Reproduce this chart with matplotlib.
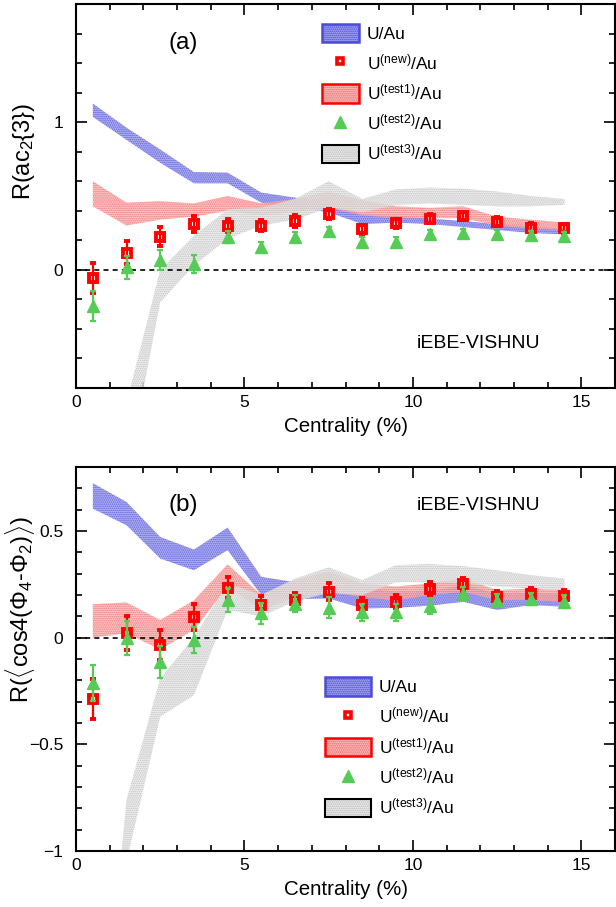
import numpy as np
import matplotlib
matplotlib.use("Agg")
import matplotlib.pyplot as plt
from matplotlib.patches import Patch
from matplotlib.lines import Line2D
from matplotlib.legend_handler import HandlerTuple

plt.rcParams['font.family'] = ['Liberation Sans', 'DejaVu Sans']
plt.rcParams['mathtext.fontset'] = 'custom'
plt.rcParams['mathtext.rm'] = 'Liberation Sans'
plt.rcParams['mathtext.it'] = 'Liberation Sans:italic'
plt.rcParams['mathtext.bf'] = 'Liberation Sans:bold'
plt.rcParams['hatch.linewidth'] = 0.8

# ---------------- data ----------------
centrality = [0.5, 1.5, 2.5, 3.5, 4.5, 5.5, 6.5, 7.5, 8.5, 9.5, 10.5, 11.5, 12.5, 13.5, 14.5]

# panel (a): R(ac2{3})
ua_a_lo = [1.036, 0.880, 0.725, 0.586, 0.586, 0.455, 0.420, 0.390, 0.310, 0.320, 0.310, 0.290, 0.270, 0.250, 0.240]
ua_a_hi = [1.126, 0.962, 0.815, 0.662, 0.658, 0.523, 0.489, 0.450, 0.376, 0.365, 0.347, 0.330, 0.310, 0.290, 0.280]
t1_a_lo = [0.43, 0.30, 0.34, 0.36, 0.40, 0.37, 0.39, 0.42, 0.37, 0.35, 0.35, 0.35, 0.30, 0.28, 0.27]
t1_a_hi = [0.60, 0.455, 0.465, 0.45, 0.50, 0.45, 0.48, 0.53, 0.47, 0.43, 0.42, 0.43, 0.36, 0.34, 0.32]
t3_a_lo = [np.nan, -1.40, -0.22, 0.03, 0.21, 0.30, 0.34, 0.42, 0.39, 0.44, 0.45, 0.44, 0.43, 0.43, 0.44]
t3_a_hi = [np.nan, -0.90, 0.00, 0.23, 0.41, 0.42, 0.48, 0.60, 0.48, 0.545, 0.557, 0.55, 0.53, 0.50, 0.48]
new_a = [-0.054, 0.117, 0.225, 0.31, 0.30, 0.30, 0.33, 0.376, 0.275, 0.316, 0.347, 0.365, 0.327, 0.286, 0.282]
new_a_err = [0.10, 0.08, 0.065, 0.055, 0.045, 0.04, 0.04, 0.034, 0.03, 0.03, 0.03, 0.03, 0.03, 0.03, 0.03]
t2_a = [-0.243, 0.016, 0.066, 0.04, 0.22, 0.155, 0.223, 0.26, 0.19, 0.19, 0.24, 0.248, 0.24, 0.234, 0.226]
t2_a_err = [0.10, 0.08, 0.07, 0.06, 0.04, 0.035, 0.035, 0.03, 0.03, 0.03, 0.03, 0.03, 0.03, 0.03, 0.03]

# panel (b): R(<cos4(Phi4-Phi2)>)
ua_b_lo = [0.605, 0.527, 0.371, 0.316, 0.410, 0.200, 0.180, 0.184, 0.137, 0.140, 0.150, 0.168, 0.130, 0.153, 0.145]
ua_b_hi = [0.724, 0.636, 0.472, 0.413, 0.516, 0.285, 0.260, 0.250, 0.235, 0.215, 0.220, 0.245, 0.207, 0.210, 0.205]
t1_b_lo = [0.00, 0.02, -0.055, 0.036, 0.238, 0.13, 0.19, 0.215, 0.19, 0.175, 0.20, 0.215, 0.176, 0.176, 0.168]
t1_b_hi = [0.157, 0.165, 0.083, 0.175, 0.344, 0.20, 0.27, 0.31, 0.254, 0.24, 0.254, 0.277, 0.223, 0.23, 0.223]
t3_b_lo = [-3.0, -1.05, -0.37, -0.27, 0.13, 0.10, 0.17, 0.21, 0.20, 0.26, 0.26, 0.255, 0.24, 0.23, 0.22]
t3_b_hi = [-2.4, -0.76, -0.19, 0.00, 0.254, 0.20, 0.277, 0.33, 0.27, 0.34, 0.345, 0.335, 0.316, 0.293, 0.277]
new_b = [-0.288, 0.02, -0.034, 0.098, 0.235, 0.153, 0.176, 0.215, 0.153, 0.168, 0.23, 0.25, 0.19, 0.204, 0.195]
new_b_err = [0.095, 0.08, 0.07, 0.06, 0.05, 0.04, 0.035, 0.04, 0.035, 0.03, 0.03, 0.03, 0.03, 0.03, 0.03]
t2_b = [-0.213, -0.003, -0.115, -0.01, 0.176, 0.114, 0.16, 0.14, 0.12, 0.12, 0.148, 0.207, 0.173, 0.181, 0.168]
t2_b_err = [0.085, 0.08, 0.075, 0.06, 0.055, 0.05, 0.04, 0.05, 0.04, 0.04, 0.035, 0.03, 0.03, 0.03, 0.03]

labels = ['U/Au', r'U$^{\rm (new)}$/Au', r'U$^{\rm (test1)}$/Au',
          r'U$^{\rm (test2)}$/Au', r'U$^{\rm (test3)}$/Au']

# ---------------- styles ----------------
BLUE_F, BLUE_H, BLUE_E = '#a4a4ee', '#4646d8', '#4c4cd8'
RED_F, RED_H, RED_E = '#fac0c0', '#ee6060', '#ff0000'
GRAY_F, GRAY_H = '#eeeeee', '#b4b4b4'
RED = '#ff0000'
GREEN = '#55cc55'

W, H = 616, 907
fig = plt.figure(figsize=(W / 100, H / 100), dpi=100)
ax1 = fig.add_axes([76 / W, 1 - 388 / H, 539 / W, 384 / H])
ax2 = fig.add_axes([76 / W, 1 - 851 / H, 539 / W, 384 / H])

x = np.array(centrality)


def band(ax, lo, hi, fc, hc, z):
    ax.fill_between(x, lo, hi, facecolor=fc, edgecolor=hc, hatch='........',
                    linewidth=0, alpha=0.8, zorder=z)


def draw(ax, ua_lo, ua_hi, t1_lo, t1_hi, t3_lo, t3_hi, nv, ne, t2, t2e):
    band(ax, ua_lo, ua_hi, BLUE_F, BLUE_H, 2)
    band(ax, t1_lo, t1_hi, RED_F, RED_H, 2.1)
    band(ax, t3_lo, t3_hi, GRAY_F, GRAY_H, 2.2)
    ax.axhline(0, color='k', lw=1.2, ls=(0, (3, 2.5)), zorder=3)
    ax.errorbar(x, nv, yerr=ne, fmt='s', ms=5.5, mew=2.8, mec=RED, mfc='none',
                ecolor=RED, elinewidth=1.6, capsize=2.5, capthick=1.6, zorder=4)
    ax.errorbar(x, t2, yerr=t2e, fmt='^', ms=9, mec=GREEN, mfc=GREEN,
                ecolor=GREEN, elinewidth=1.6, capsize=2.5, capthick=1.6, zorder=5)


draw(ax1, ua_a_lo, ua_a_hi, t1_a_lo, t1_a_hi, t3_a_lo, t3_a_hi, new_a, new_a_err, t2_a, t2_a_err)
draw(ax2, ua_b_lo, ua_b_hi, t1_b_lo, t1_b_hi, t3_b_lo, t3_b_hi, new_b, new_b_err, t2_b, t2_b_err)

for ax in (ax1, ax2):
    ax.set_xlim(0, 16)
    ax.set_xticks([0, 5, 10, 15])
    ax.set_xticks(np.arange(0, 16, 1), minor=True)
    ax.tick_params(which='both', direction='in', top=True, right=True, width=1.2)
    ax.tick_params(which='major', length=8, labelsize=12.5, pad=5)
    ax.tick_params(which='minor', length=4.3)
    ax.tick_params(axis='y', which='major', pad=9)
    for s in ax.spines.values():
        s.set_linewidth(1.5)
    ax.set_xlabel('Centrality (%)', fontsize=14.8, labelpad=5)

ax1.set_ylim(-0.8, 1.8)
ax1.set_yticks([0, 1])
ax1.set_yticklabels(['0', '1'])
ax1.set_yticks(np.arange(-0.8, 1.81, 0.2), minor=True)
ax1.set_ylabel(r'R(ac$_2${3})', fontsize=17)
ax1.yaxis.set_label_coords(-0.072, 0.617)

ax2.set_ylim(-1, 0.8)
ax2.set_yticks([-1, -0.5, 0, 0.5])
ax2.set_yticklabels(['\u22121', '\u22120.5', '0', '0.5'])
ax2.set_yticks(np.arange(-1, 0.81, 0.1), minor=True)
ax2.set_ylabel(r'R($\langle$cos4($\Phi_4$-$\Phi_2$)$\rangle$)', fontsize=17)
ax2.yaxis.set_label_coords(-0.072, 0.63)

ax1.text(0.1985, 0.898, '(a)', transform=ax1.transAxes, fontsize=17.5, ha='center', va='center')
ax2.text(0.1985, 0.901, '(b)', transform=ax2.transAxes, fontsize=17.5, ha='center', va='center')
ax1.text(0.746, 0.117, 'iEBE-VISHNU', transform=ax1.transAxes, fontsize=14, ha='center', va='center')
ax2.text(0.746, 0.901, 'iEBE-VISHNU', transform=ax2.transAxes, fontsize=14, ha='center', va='center')


def make_handles():
    h_ua = (Patch(facecolor=BLUE_F, edgecolor=BLUE_H, hatch='........', lw=0),
            Patch(facecolor='none', edgecolor=BLUE_E, lw=1.8))
    h_new = Line2D([], [], marker='s', ls='none', ms=5, mew=2.6, mec=RED, mfc='white')
    h_t1 = (Patch(facecolor=RED_F, edgecolor=RED_H, hatch='........', lw=0),
            Patch(facecolor='none', edgecolor=RED_E, lw=1.8))
    h_t2 = Line2D([], [], marker='^', ls='none', ms=9, mec=GREEN, mfc=GREEN)
    h_t3 = (Patch(facecolor=GRAY_F, edgecolor=GRAY_H, hatch='........', lw=0),
            Patch(facecolor='none', edgecolor='k', lw=1.5))
    return [h_ua, h_new, h_t1, h_t2, h_t3]


for ax, anchor, hl in ((ax1, (0.456, 0.949), 2.15), (ax2, (0.462, 0.452), 2.65)):
    leg = ax.legend(make_handles(), labels, loc='upper left', bbox_to_anchor=anchor,
                    frameon=False, fontsize=12.5, handlelength=hl, handleheight=1.25,
                    labelspacing=0.58, handletextpad=0.45, borderpad=0, borderaxespad=0,
                    handler_map={tuple: HandlerTuple(ndivide=1, pad=0)})

fig.savefig('out.png', dpi=100)
